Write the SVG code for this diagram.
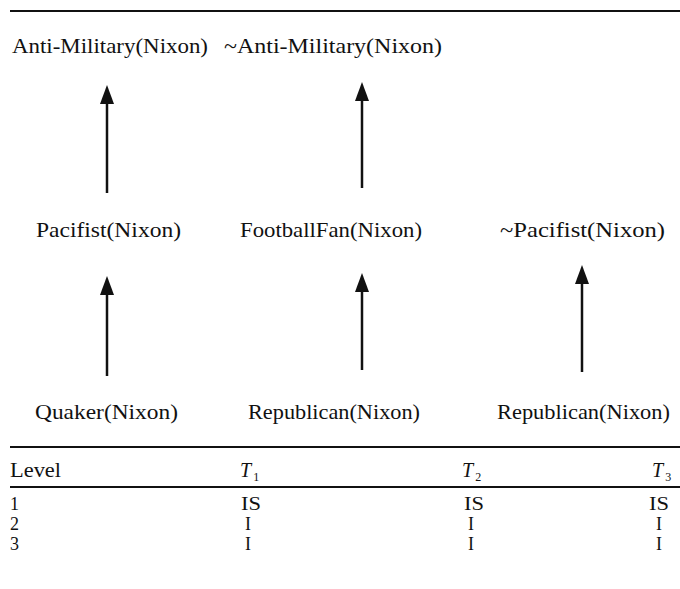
<svg xmlns="http://www.w3.org/2000/svg" width="680" height="589" viewBox="0 0 680 589">
<defs>
<marker id="ah" markerUnits="userSpaceOnUse" markerWidth="20" markerHeight="14" refX="1" refY="7" orient="auto">
<path d="M0,0 L19,7 L0,14 z" fill="#111"/>
</marker>
<style>
.t{font-family:"Liberation Serif","Times New Roman",serif;font-size:22px;fill:#111}
.tb{font-family:"Liberation Serif","Times New Roman",serif;font-size:20px;fill:#111}
.tr{font-family:"Liberation Serif","Times New Roman",serif;font-size:18px;fill:#111}
.it{font-style:italic}
.sub{font-size:12px}
.rule{stroke:#111;stroke-width:2}
.c{stroke:#111;stroke-width:2.5;fill:none}
</style>
</defs>
<rect width="680" height="589" fill="#fff"/>
<line class="rule" x1="10" y1="11" x2="680" y2="11"/>
<g id="n-antimil"><text class="t" x="12" y="53" textLength="196" lengthAdjust="spacingAndGlyphs">Anti-Military(Nixon)</text></g>
<g id="n-notantimil"><text class="t" x="224" y="53" textLength="218" lengthAdjust="spacingAndGlyphs">~Anti-Military(Nixon)</text></g>
<g id="n-pacifist"><text class="t" x="36" y="237" textLength="145" lengthAdjust="spacingAndGlyphs">Pacifist(Nixon)</text></g>
<g id="n-football"><text class="t" x="240" y="237" textLength="182" lengthAdjust="spacingAndGlyphs">FootballFan(Nixon)</text></g>
<g id="n-notpacifist"><text class="t" x="500" y="237" textLength="165" lengthAdjust="spacingAndGlyphs">~Pacifist(Nixon)</text></g>
<g id="n-quaker"><text class="t" x="35" y="419" textLength="143" lengthAdjust="spacingAndGlyphs">Quaker(Nixon)</text></g>
<g id="n-republican1"><text class="t" x="248" y="419" textLength="172" lengthAdjust="spacingAndGlyphs">Republican(Nixon)</text></g>
<g id="n-republican2"><text class="t" x="497" y="419" textLength="173" lengthAdjust="spacingAndGlyphs">Republican(Nixon)</text></g>
<g id="connectors">
<line class="c" x1="107" y1="193" x2="107" y2="103" marker-end="url(#ah)"/>
<line class="c" x1="362" y1="188" x2="362" y2="100" marker-end="url(#ah)"/>
<line class="c" x1="107" y1="376" x2="107" y2="294" marker-end="url(#ah)"/>
<line class="c" x1="362" y1="370" x2="362" y2="291" marker-end="url(#ah)"/>
<line class="c" x1="582" y1="372" x2="582" y2="283" marker-end="url(#ah)"/>
</g>
<g id="table">
<line class="rule" x1="10" y1="447" x2="680" y2="447"/>
<text class="tb" x="10" y="477" textLength="51" lengthAdjust="spacingAndGlyphs">Level</text>
<text class="tb it" x="240" y="477">T<tspan class="sub" dx="2" dy="4" font-style="normal">1</tspan></text>
<text class="tb it" x="462" y="477">T<tspan class="sub" dx="2" dy="4" font-style="normal">2</tspan></text>
<text class="tb it" x="652" y="477">T<tspan class="sub" dx="2" dy="4" font-style="normal">3</tspan></text>
<line class="rule" x1="10" y1="487" x2="680" y2="487"/>
<text class="tr" x="10" y="510">1</text>
<text class="tr" x="241" y="510" textLength="20" lengthAdjust="spacingAndGlyphs">IS</text>
<text class="tr" x="464" y="510" textLength="20" lengthAdjust="spacingAndGlyphs">IS</text>
<text class="tr" x="649" y="510" textLength="20" lengthAdjust="spacingAndGlyphs">IS</text>
<text class="tr" x="10" y="530">2</text>
<text class="tr" x="245" y="530">I</text>
<text class="tr" x="468" y="530">I</text>
<text class="tr" x="656" y="530">I</text>
<text class="tr" x="10" y="550">3</text>
<text class="tr" x="245" y="550">I</text>
<text class="tr" x="468" y="550">I</text>
<text class="tr" x="656" y="550">I</text>
</g>
</svg>
